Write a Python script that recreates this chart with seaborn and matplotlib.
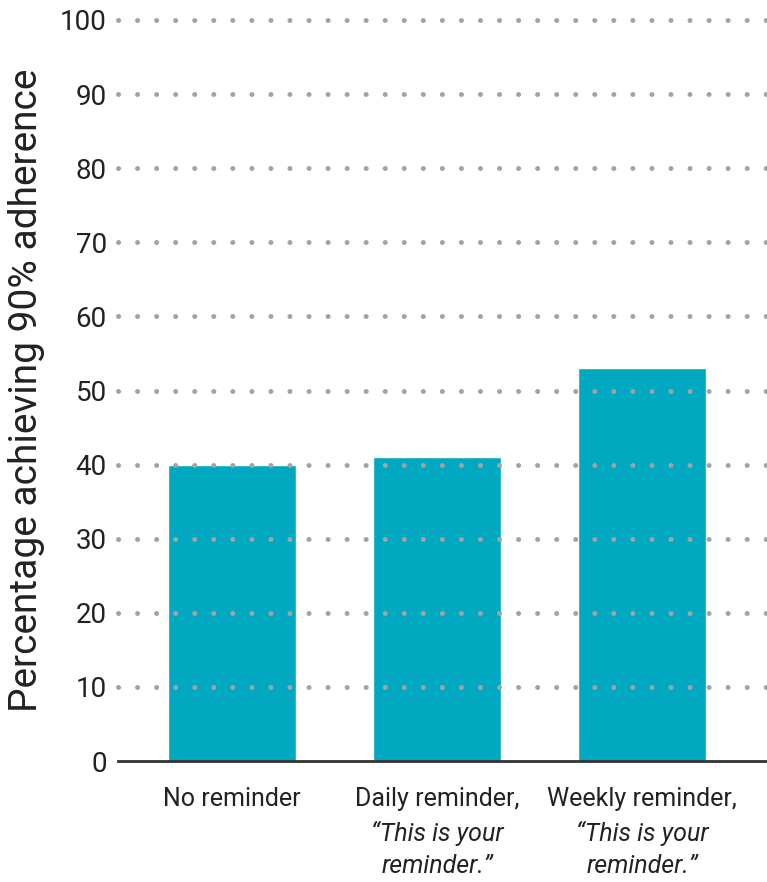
import seaborn as sns
import matplotlib.pyplot as plt
import pandas as pd

sns.set_theme(style="white")
plt.rcParams["font.family"] = ["Roboto", "DejaVu Sans"]

# data
categories = ["No reminder", "Daily reminder,", "Weekly reminder,"]
sub_line1 = ["", "\u201cThis is your", "\u201cThis is your"]
sub_line2 = ["", "reminder.\u201d", "reminder.\u201d"]
values = [40, 41, 53]

df = pd.DataFrame({"group": categories, "pct": values})

fig = plt.figure(figsize=(7.67, 8.82), dpi=100)
ax = fig.add_axes([118 / 767, 1 - 761 / 882, 1 - 118 / 767, (761 - 20) / 882])

sns.barplot(data=df, x="group", y="pct", color="#00a8c0", saturation=1,
            width=0.625, ax=ax)

ax.set_ylim(0, 100)
ax.set_xlim(-0.556, 2.61)
ax.set_yticks(range(0, 101, 10))
ax.tick_params(axis="y", labelsize=20, length=0, pad=8, colors="#222222")
ax.tick_params(axis="x", labelsize=18, length=0, pad=19, colors="#222222")

# dotted gridlines drawn over bars
for y in range(10, 101, 10):
    ax.axhline(y, color="#a3a3a3", lw=3.6, ls=(0, (0.01, 3.8)),
               dash_capstyle="round", zorder=5, xmin=0.0, clip_on=False)

for s in ["top", "right", "left"]:
    ax.spines[s].set_visible(False)
ax.spines["bottom"].set_color("#333333")
ax.spines["bottom"].set_linewidth(2)

ax.set_xlabel("")
ax.set_ylabel("Percentage achieving 90% adherence", fontsize=28, color="#222222")
ax.yaxis.set_label_coords(-0.112, 0.5)

for i in range(len(categories)):
    if sub_line1[i]:
        ax.text(i, -9.72, sub_line1[i], ha="center", va="center", fontsize=18,
                style="italic", color="#222222", clip_on=False)
        ax.text(i, -14.17, sub_line2[i], ha="center", va="center", fontsize=18,
                style="italic", color="#222222", clip_on=False)

fig.savefig("out.png", dpi=100)
